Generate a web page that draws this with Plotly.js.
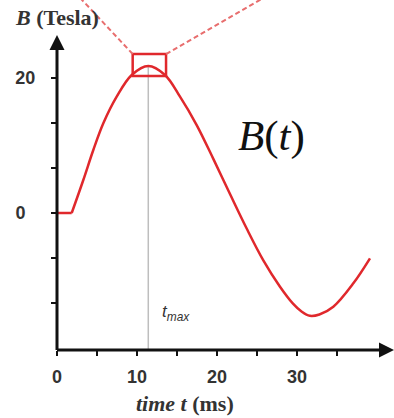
<!DOCTYPE html>
<html>
<head>
<meta charset="utf-8">
<script src="https://cdn.plot.ly/plotly-3.0.1.min.js"></script>
<style>
  html, body { margin: 0; padding: 0; background: #fff; }
  #chart { width: 394px; height: 418px; }
</style>
</head>
<body>
<div id="chart"></div>
<script>
// Data
var timeMs = [0, 1.84, 3.29, 4.54, 5.79, 7.46, 9.34, 11.41, 13.5, 15.375, 17.46, 19.54, 21.625, 23.71, 25.79, 27.875, 29.5, 30.6, 31.6, 32.8, 34.54, 37.04, 39.125];
var fieldT = [0, 0, 4.88, 9.31, 13.26, 17.19, 20.4, 21.73, 20.4, 17.19, 13.0, 8.0, 2.8, -2.3, -7.0, -10.9, -13.4, -14.6, -15.2, -15.0, -13.85, -10.4, -6.7];
var tMax = 11.41;
var zoomBox = {t0: 9.46, t1: 13.63, b0: 20.25, b1: 23.5};
var xTickVals = [0, 10, 20, 30];
var xTickText = ['0', '10', '20', '30'];
var xMinorTicks = [5, 15, 25, 35];
var yTickVals = [0, 20];
var yTickText = ['0\u00a0\u00a0', '20'];
var yMinorTicks = [-13.333, -6.667, 6.667, 13.333];

var xRange = [0, 42.125];
var yRange = [-20.25, 26.31];
function xp(t) { return (t - xRange[0]) / (xRange[1] - xRange[0]); }
function yp(b) { return (b - yRange[0]) / (yRange[1] - yRange[0]); }

var red = 'rgb(224,40,44)';

var traces = [
  {x: timeMs.slice(0, 2), y: fieldT.slice(0, 2), mode: 'lines', line: {color: red, width: 2.5}, hoverinfo: 'skip'},
  {x: timeMs.slice(1), y: fieldT.slice(1), mode: 'lines', line: {color: red, width: 2.5, shape: 'spline', smoothing: 1}, hoverinfo: 'skip'}
];

// dashed guide lines from box corners going up out of the frame
function extend(t0, b0, t1, b1, bEnd) {
  var k = (bEnd - b0) / (b1 - b0);
  return {t: t0 + (t1 - t0) * k, b: bEnd};
}
var leftEnd = extend(zoomBox.t0, zoomBox.b1, 3.125, 31.5, 34);
var rightEnd = extend(zoomBox.t1, zoomBox.b1, 25.375, 31.5, 34);

var axisColor = '#111';
var shapes = [
  {type: 'line', xref: 'x', yref: 'y', x0: tMax, x1: tMax, y0: yRange[0], y1: 21.6,
   line: {color: 'rgb(190,190,190)', width: 1.5}, layer: 'below'},
  {type: 'rect', xref: 'x', yref: 'y', x0: zoomBox.t0, x1: zoomBox.t1, y0: zoomBox.b0, y1: zoomBox.b1,
   line: {color: red, width: 2.5}},
  {type: 'line', xref: 'paper', yref: 'paper', x0: xp(zoomBox.t0), y0: yp(zoomBox.b1), x1: xp(leftEnd.t), y1: yp(leftEnd.b),
   line: {color: 'rgb(232,110,110)', width: 2, dash: '5px,3px'}},
  {type: 'line', xref: 'paper', yref: 'paper', x0: xp(zoomBox.t1), y0: yp(zoomBox.b1), x1: xp(rightEnd.t), y1: yp(rightEnd.b),
   line: {color: 'rgb(232,110,110)', width: 2, dash: '5px,3px'}},
  // axes with arrowheads
  {type: 'line', xref: 'paper', yref: 'paper', x0: 0, y0: 0, x1: 0, y1: 0.96, line: {color: axisColor, width: 3}},
  {type: 'line', xref: 'paper', yref: 'paper', x0: 0, y0: 0, x1: 0.97, y1: 0, line: {color: axisColor, width: 3}},
  {type: 'path', xref: 'paper', yref: 'paper', xsizemode: 'pixel', ysizemode: 'pixel', xanchor: 0, yanchor: 1,
   path: 'M0,0 L-7.5,-15 L7.5,-15 Z', fillcolor: axisColor, line: {width: 0}},
  {type: 'path', xref: 'paper', yref: 'paper', xsizemode: 'pixel', ysizemode: 'pixel', xanchor: 1, yanchor: 0,
   path: 'M0,0 L-15,7.5 L-15,-7.5 Z', fillcolor: axisColor, line: {width: 0}}
];

var serif = 'Liberation Serif, Times New Roman, serif';
var sans = 'Liberation Sans, Arial, sans-serif';

var annotations = [
  {xref: 'paper', yref: 'paper', x: -0.1306, y: 1.054, xanchor: 'left', yanchor: 'middle', showarrow: false,
   text: '<b><i>B</i> (Tesla)</b>', font: {family: serif, size: 22, color: '#333'}},
  {xref: 'paper', yref: 'paper', x: 0.380, y: -0.1714, xanchor: 'center', yanchor: 'middle', showarrow: false,
   text: '<b><i>time t</i> (ms)</b>', font: {family: serif, size: 22, color: '#333'}},
  {xref: 'paper', yref: 'paper', x: 0.637, y: 0.679, xanchor: 'center', yanchor: 'middle', showarrow: false,
   text: '<i>B</i>(<i>t</i>)', font: {family: serif, size: 43, color: '#111'}},
  {xref: 'paper', yref: 'paper', x: 0.3056, y: 0.117, xanchor: 'left', yanchor: 'middle', showarrow: false,
   text: '<i>t<sub>max</sub></i>', font: {family: sans, size: 17, color: '#333'}}
];

var layout = {
  width: 394, height: 418,
  margin: {l: 57, r: 0, t: 35, b: 68},
  paper_bgcolor: '#fff', plot_bgcolor: '#fff',
  showlegend: false,
  xaxis: {range: xRange, showgrid: false, zeroline: false, showline: false,
          tickmode: 'array', tickvals: xTickVals, ticktext: xTickText,
          ticks: 'outside', ticklen: 5, tickwidth: 2, tickcolor: axisColor,
          ticklabelstandoff: 5,
          minor: {tickmode: 'array', tickvals: xMinorTicks, ticks: 'outside', ticklen: 5, tickwidth: 2, tickcolor: axisColor, showgrid: false},
          tickfont: {family: sans, size: 18, color: '#333', weight: 'bold'}},
  yaxis: {range: yRange, showgrid: false, zeroline: false, showline: false,
          tickmode: 'array', tickvals: yTickVals, ticktext: yTickText,
          ticks: 'outside', ticklen: 5, tickwidth: 2, tickcolor: axisColor,
          ticklabelstandoff: 12,
          minor: {tickmode: 'array', tickvals: yMinorTicks, ticks: 'outside', ticklen: 5, tickwidth: 2, tickcolor: axisColor, showgrid: false},
          tickfont: {family: sans, size: 18, color: '#333', weight: 'bold'}},
  shapes: shapes,
  annotations: annotations
};

Plotly.newPlot('chart', traces, layout, {staticPlot: true, displayModeBar: false});
</script>
</body>
</html>
